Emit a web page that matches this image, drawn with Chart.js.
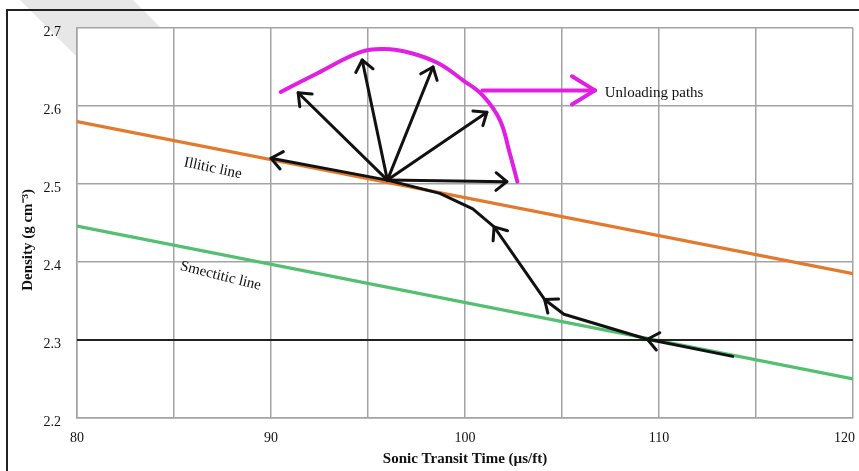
<!DOCTYPE html>
<html>
<head>
<meta charset="utf-8">
<script src="https://cdn.jsdelivr.net/npm/chart.js@4.4.0/dist/chart.umd.min.js"></script>
<style>
html, body { margin: 0; padding: 0; background: #fff; overflow: hidden; }
#wrap { position: relative; width: 859px; height: 471px; }
#frame { position: absolute; left: 6px; top: 9px; width: 900px; height: 500px;
         border-left: 2px solid #222; border-top: 2px solid #222; pointer-events: none; }
</style>
</head>
<body>
<div id="wrap">
  <canvas id="chart" width="859" height="471"></canvas>
  <div id="frame"></div>
</div>
<script>
// reference lines (x = sonic transit time, y = density)
const illiticX = [80, 120];
const illiticY = [2.58, 2.385];
const smectiticX = [80, 120];
const smectiticY = [2.446, 2.25];
const baseX = [80, 120];
const baseY = [2.3, 2.3];

// loading path, travelled from right to left
const loadX = [113.8, 109.4, 105.1, 104.1, 101.5, 100.4, 98.7, 96.0];
const loadY = [2.279, 2.301, 2.333, 2.352, 2.445, 2.468, 2.488, 2.505];
const loadArrowIdx = [1, 3, 4];

// unloading fan
const fanOrigin = [96.0, 2.505];
const fanTipX = [90.0, 91.4, 94.7, 98.35, 101.13, 102.16];
const fanTipY = [2.533, 2.617, 2.659, 2.65, 2.592, 2.503];

// envelope of unloading paths
const envX = [90.5, 92.4, 94.6, 95.8, 97.2, 98.6, 99.9, 100.9, 101.8, 102.3, 102.7];
const envY = [2.618, 2.642, 2.669, 2.673, 2.668, 2.655, 2.633, 2.614, 2.582, 2.54, 2.503];
const pointerX = [100.9, 106.7];
const pointerY = [2.62, 2.62];

const xTicks = [80, 90, 100, 110, 120];
const yTicks = [2.2, 2.3, 2.4, 2.5, 2.6, 2.7];

const ORANGE = '#E3792C';
const GREEN = '#52BF71';
const MAGENTA = '#E11FE3';
const BLACK = '#111111';
const GRID = '#a3a3a3';
const SERIF = '"Liberation Serif", "Times New Roman", serif';

function pts(xs, ys) {
    return xs.map((x, i) => ({x: x, y: ys[i]}));
}

function lineSet(label, xs, ys, color, width, order, extra) {
    return Object.assign({
        label: label,
        data: pts(xs, ys),
        showLine: true,
        borderColor: color,
        backgroundColor: color,
        borderWidth: width,
        pointRadius: 0,
        order: order,
        borderCapStyle: 'round',
        borderJoinStyle: 'round'
    }, extra || {});
}

let datasets = [];
datasets.push(lineSet('Illitic line', illiticX, illiticY, ORANGE, 3.2, 10));
datasets.push(lineSet('Smectitic line', smectiticX, smectiticY, GREEN, 3.2, 10));
datasets.push(lineSet('2.3', baseX, baseY, '#222', 2, 9));
datasets.push(lineSet('Loading path', loadX, loadY, BLACK, 3, 5, {midArrows: loadArrowIdx}));
for (let i = 0; i < fanTipX.length; i++) {
    datasets.push(lineSet('Unloading ' + i, [fanOrigin[0], fanTipX[i]], [fanOrigin[1], fanTipY[i]], BLACK, 3, 4, {endArrow: 14}));
}
datasets.push(lineSet('Envelope', envX, envY, MAGENTA, 4, 3, {tension: 0.4}));
datasets.push(lineSet('Pointer', pointerX, pointerY, MAGENTA, 4, 3, {endArrow: 27, arrowAngle: 0.55}));

// text annotations, anchored in data units
const notes = [
    {text: 'Illitic line', x: 87.0, y: 2.52, angle: 12, size: 15},
    {text: 'Smectitic line', x: 87.4, y: 2.382, angle: 14, size: 15},
    {text: 'Unloading paths', x: 107.2, y: 2.617, angle: 0, size: 15, align: 'left'}
];

function drawHead(ctx, x1, y1, x2, y2, len, ang, color, width) {
    const a = Math.atan2(y2 - y1, x2 - x1);
    ctx.save();
    ctx.strokeStyle = color;
    ctx.lineWidth = width;
    ctx.lineCap = 'round';
    ctx.lineJoin = 'round';
    ctx.beginPath();
    ctx.moveTo(x2 - len * Math.cos(a - ang), y2 - len * Math.sin(a - ang));
    ctx.lineTo(x2, y2);
    ctx.lineTo(x2 - len * Math.cos(a + ang), y2 - len * Math.sin(a + ang));
    ctx.stroke();
    ctx.restore();
}

const decorations = {
    id: 'decorations',
    beforeDraw(chart) {
        const ctx = chart.ctx;
        const area = chart.chartArea;
        // faint diagonal band behind the frame, outside the plot
        ctx.save();
        ctx.beginPath();
        ctx.rect(0, 0, chart.width, chart.height);
        ctx.rect(area.left, area.top, area.right - area.left, area.bottom - area.top);
        ctx.clip('evenodd');
        ctx.fillStyle = '#e7e7e7';
        ctx.beginPath();
        ctx.moveTo(20, 0);
        ctx.lineTo(133, 0);
        ctx.lineTo(243, 110);
        ctx.lineTo(130, 110);
        ctx.closePath();
        ctx.fill();
        ctx.restore();

        // keep the 120 label inside the canvas
        const xs = chart.scales.x;
        const items = xs.getLabelItems();
        const last = items[items.length - 1];
        if (last && last.label === '120') {
            last.options.textAlign = 'right';
            last.options.translation = [xs.right + 2, last.options.translation[1]];
        }
    },
    afterDatasetsDraw(chart) {
        const ctx = chart.ctx;
        const xs = chart.scales.x;
        const ys = chart.scales.y;
        chart.data.datasets.forEach((ds, di) => {
            const p = chart.getDatasetMeta(di).data;
            if (ds.endArrow) {
                const a = p[p.length - 2], b = p[p.length - 1];
                drawHead(ctx, a.x, a.y, b.x, b.y, ds.endArrow, ds.arrowAngle || 0.68, ds.borderColor, ds.borderWidth);
            }
            if (ds.midArrows) {
                ds.midArrows.forEach(i => {
                    drawHead(ctx, p[i - 1].x, p[i - 1].y, p[i].x, p[i].y, 14, 0.68, ds.borderColor, ds.borderWidth);
                });
            }
        });
        notes.forEach(n => {
            ctx.save();
            ctx.translate(xs.getPixelForValue(n.x), ys.getPixelForValue(n.y));
            ctx.rotate(n.angle * Math.PI / 180);
            ctx.font = n.size + 'px ' + SERIF;
            ctx.fillStyle = '#111';
            ctx.textAlign = n.align || 'center';
            ctx.textBaseline = 'middle';
            ctx.fillText(n.text, 0, 0);
            ctx.restore();
        });
    }
};

new Chart(document.getElementById('chart'), {
    type: 'scatter',
    data: {datasets: datasets},
    options: {
        responsive: false,
        animation: false,
        devicePixelRatio: 1,
        layout: {padding: {top: 28, right: 6, left: 0, bottom: 0}},
        plugins: {legend: {display: false}, tooltip: {enabled: false}},
        scales: {
            x: {
                type: 'linear',
                min: 80,
                max: 120,
                afterBuildTicks: s => {
                    let t = [];
                    for (let v = 80; v <= 120; v += 5) t.push({value: v});
                    s.ticks = t;
                },
                ticks: {
                    autoSkip: false,
                    maxRotation: 0,
                    padding: 12,
                    color: '#111',
                    font: {family: SERIF, size: 14},
                    callback: v => xTicks.includes(v) ? String(v) : ''
                },
                grid: {color: GRID, lineWidth: 1.5, drawTicks: false},
                border: {color: GRID, width: 1.5},
                title: {
                    display: true,
                    text: 'Sonic Transit Time (µs/ft)',
                    color: '#111',
                    font: {family: SERIF, size: 15, weight: 'bold'},
                    padding: {top: 0, bottom: 3}
                },
                afterFit: s => {
                    s.height = 53;
                    s.paddingRight = 0;
                    s.paddingLeft = 0;
                }
            },
            y: {
                type: 'linear',
                min: 2.2,
                max: 2.7,
                afterBuildTicks: s => {
                    s.ticks = yTicks.map(v => ({value: v}));
                },
                ticks: {
                    padding: 16,
                    labelOffset: 4,
                    color: '#111',
                    font: {family: SERIF, size: 14},
                    callback: v => Number(v).toFixed(1)
                },
                grid: {color: GRID, lineWidth: 1.5, drawTicks: false},
                border: {color: GRID, width: 1.5},
                title: {
                    display: true,
                    // trailing spaces push the rotated text a little below centre, as in the source
                    text: 'Density (g cm⁻³)\u00A0\u00A0\u00A0\u00A0\u00A0\u00A0\u00A0\u00A0\u00A0',
                    color: '#111',
                    font: {family: SERIF, size: 15, weight: 'bold'},
                    padding: {top: 19, bottom: 0}
                },
                afterFit: s => {
                    s.width = 77;
                }
            }
        }
    },
    plugins: [decorations]
});
</script>
</body>
</html>
